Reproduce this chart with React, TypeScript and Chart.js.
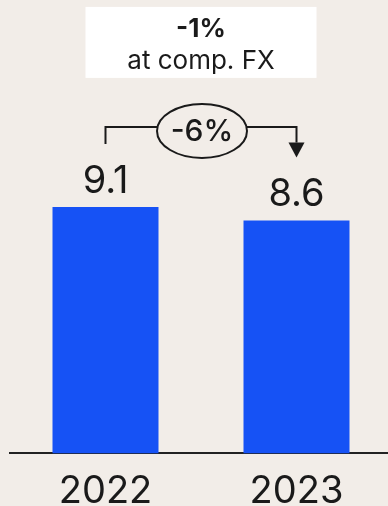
import React, { useEffect, useRef } from "react";
import { Chart, registerables } from "chart.js";

Chart.register(...registerables);

// Revenue by year (in billions)
const years = ["2022", "2023"];
const revenue = [9.1, 8.6];

// Growth call-outs
const reportedGrowth = "-6%";
const compFxGrowth = "-1%";
const compFxNote = "at comp. FX";

const BG = "#F2EDE8";
const BAR = "#1652F5";
const INK = "#1A1A1A";
const FONT = "Inter, 'Noto Sans', sans-serif";

const calloutPlugin = {
  id: "callouts",
  afterDatasetsDraw(chart: any) {
    const ctx: CanvasRenderingContext2D = chart.ctx;
    const bars = chart.getDatasetMeta(0).data;
    const values = chart.data.datasets[0].data as number[];
    if (bars.length < 2) return;

    ctx.save();
    ctx.fillStyle = INK;
    ctx.strokeStyle = INK;

    // value labels above each bar
    ctx.font = `38px ${FONT}`;
    ctx.textAlign = "center";
    ctx.textBaseline = "alphabetic";
    bars.forEach((bar: any, i: number) => {
      ctx.fillText(String(values[i]), bar.x, bar.y - 14);
    });

    // bracket from first bar to second bar
    const x0 = bars[0].x;
    const x1 = bars[1].x;
    const lineY = Math.min(bars[0].y, bars[1].y) - 80;
    const leftEnd = bars[0].y - 63;
    const tip = bars[1].y - 63;
    const headH = 15;
    const headW = 16;

    ctx.lineWidth = 2;
    ctx.lineJoin = "miter";
    ctx.beginPath();
    ctx.moveTo(x0, leftEnd);
    ctx.lineTo(x0, lineY);
    ctx.lineTo(x1, lineY);
    ctx.lineTo(x1, tip - headH);
    ctx.stroke();

    ctx.beginPath();
    ctx.moveTo(x1 - headW / 2, tip - headH);
    ctx.lineTo(x1 + headW / 2, tip - headH);
    ctx.lineTo(x1, tip);
    ctx.closePath();
    ctx.fill();

    // ellipse with reported change
    const cx = (x0 + x1) / 2 + 1;
    const cy = lineY + 4;
    ctx.beginPath();
    ctx.ellipse(cx, cy, 45, 27, 0, 0, Math.PI * 2);
    ctx.fillStyle = BG;
    ctx.fill();
    ctx.stroke();

    ctx.fillStyle = INK;
    ctx.font = `500 30px ${FONT}`;
    ctx.textBaseline = "middle";
    ctx.fillText(reportedGrowth, cx, cy + 1);

    // box with comparable-FX change
    const boxW = 231;
    const boxTop = lineY - 120;
    const boxH = 71;
    ctx.fillStyle = "#FFFFFF";
    ctx.fillRect(cx - 1 - boxW / 2, boxTop, boxW, boxH);

    ctx.fillStyle = INK;
    ctx.textBaseline = "alphabetic";
    ctx.font = `700 26px ${FONT}`;
    ctx.fillText(compFxGrowth, cx - 1, boxTop + 30.5);
    ctx.font = `400 26px ${FONT}`;
    ctx.fillText(compFxNote, cx - 1, boxTop + 62.5);

    ctx.restore();
  },
};

export default function App() {
  const canvasRef = useRef<HTMLCanvasElement | null>(null);

  useEffect(() => {
    if (!canvasRef.current) return;
    const chart = new Chart(canvasRef.current, {
      type: "bar",
      data: {
        labels: years,
        datasets: [
          {
            data: revenue,
            backgroundColor: BAR,
            borderWidth: 0,
            categoryPercentage: 1,
            barPercentage: 0.555,
          },
        ],
      },
      options: {
        responsive: false,
        maintainAspectRatio: false,
        animation: false,
        devicePixelRatio: 1,
        layout: { padding: { left: 10, right: 0, top: 20, bottom: 0 } },
        plugins: {
          legend: { display: false },
          tooltip: { enabled: false },
        },
        scales: {
          x: {
            grid: { display: false, drawTicks: false },
            border: { display: true, color: "#222222", width: 2 },
            ticks: {
              color: INK,
              padding: 15,
              font: { family: FONT, size: 38 },
            },
          },
          y: {
            display: false,
            min: 0,
            max: 16,
          },
        },
      },
      plugins: [calloutPlugin],
    });
    return () => chart.destroy();
  }, []);

  return (
    <div
      style={{
        position: "fixed",
        left: 0,
        top: 0,
        width: 388,
        height: 506,
        overflow: "hidden",
        background: BG,
      }}
    >
      <canvas
        ref={canvasRef}
        width={392}
        height={529}
        style={{ display: "block", width: 392, height: 529 }}
      />
    </div>
  );
}
